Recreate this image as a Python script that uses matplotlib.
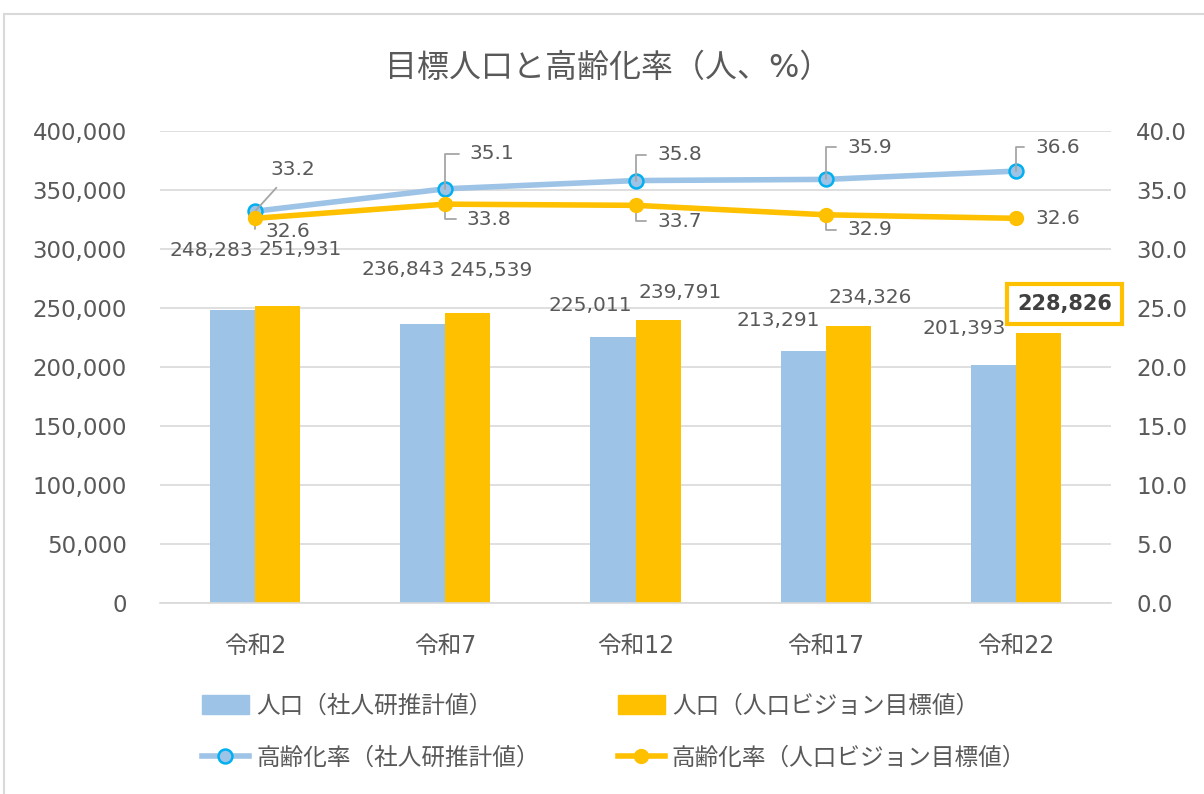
import matplotlib.pyplot as plt
from matplotlib.patches import Rectangle
from matplotlib.lines import Line2D
from matplotlib.patches import Patch

plt.rcParams['font.family'] = ['DejaVu Sans', 'Noto Sans CJK JP']

# データ
nendo = ["令和2", "令和7", "令和12", "令和17", "令和22"]
jinko_shajinken = [248283, 236843, 225011, 213291, 201393]
jinko_vision = [251931, 245539, 239791, 234326, 228826]
koreika_shajinken = [33.2, 35.1, 35.8, 35.9, 36.6]
koreika_vision = [32.6, 33.8, 33.7, 32.9, 32.6]

AZUL = "#9DC3E6"
NARANJA = "#FFC000"
GRIS = "#595959"

fig = plt.figure(figsize=(12.04, 7.94), dpi=100)
fig.patches.append(Rectangle((4/1204, -0.01), 1.2, 1 - 14/794 + 0.01, transform=fig.transFigure,
                             fill=False, edgecolor="#d9d9d9", linewidth=1.5))
ax = fig.add_axes([160/1204, 1 - 603/794, 951/1204, 472/794])
ax2 = ax.twinx()

xs = list(range(len(nendo)))
ancho = 0.237
ax.bar([x - ancho/2 for x in xs], jinko_shajinken, ancho, color=AZUL, zorder=2)
ax.bar([x + ancho/2 for x in xs], jinko_vision, ancho, color=NARANJA, zorder=2)

ax.set_xlim(-0.5, 4.5)
ax.set_ylim(0, 400000)
ax.set_yticks(range(0, 400001, 50000))
ax.set_yticklabels([f"{v:,}" for v in range(0, 400001, 50000)])
ax.grid(axis="y", color="#d9d9d9", linewidth=1.2, zorder=0)
ax.set_axisbelow(True)
ax.set_xticks(xs)
ax.set_xticklabels(nendo)
ax.tick_params(axis="y", length=0, pad=24, labelsize=16.5, labelcolor=GRIS)
ax.tick_params(axis="x", length=0, pad=22, labelsize=17, labelcolor=GRIS)
for s in ["top", "left", "right"]:
    ax.spines[s].set_visible(False)
ax.spines["bottom"].set_color("#d9d9d9")
ax.spines["bottom"].set_linewidth(1.2)

ax2.set_ylim(0, 40)
ax2.set_yticks([i * 5 for i in range(9)])
ax2.set_yticklabels([f"{i*5:.1f}" for i in range(9)])
ax2.tick_params(axis="y", length=0, pad=18, labelsize=16.5, labelcolor=GRIS)
for s in ax2.spines.values():
    s.set_visible(False)

ax2.plot(xs, koreika_shajinken, color=AZUL, linewidth=4, marker="o", markersize=10,
         markerfacecolor=AZUL, markeredgecolor="#00B0F0", markeredgewidth=1.8, zorder=3)
ax2.plot(xs, koreika_vision, color=NARANJA, linewidth=4, marker="o", markersize=10,
         markerfacecolor=NARANJA, markeredgecolor=NARANJA, zorder=4)

# etiquetas de barras (desplazamientos en pixeles)
off_azul = [(-21, 60), (-20, 54), (-23, 32), (-25, 31), (-29, 37)]
off_naranja = [(23, 56), (23, 43), (22, 28), (22, 29), (26, 29)]
for i in xs:
    ax.annotate(f"{jinko_shajinken[i]:,}", (i - ancho/2, jinko_shajinken[i]),
                xytext=off_azul[i], textcoords="offset pixels",
                ha="center", va="center", fontsize=14.5, color=GRIS)
    if i < 4:
        ax.annotate(f"{jinko_vision[i]:,}", (i + ancho/2, jinko_vision[i]),
                    xytext=off_naranja[i], textcoords="offset pixels",
                    ha="center", va="center", fontsize=14.5, color=GRIS)
    else:
        ax.annotate(f"{jinko_vision[i]:,}", (i + ancho/2, jinko_vision[i]),
                    xytext=off_naranja[i], textcoords="offset pixels",
                    ha="center", va="center", fontsize=15, color="#404040", fontweight="bold",
                    bbox=dict(boxstyle="square,pad=0.5", fc="white", ec=NARANJA, lw=3))

# etiquetas de lineas
lab_azul = [(38, 42), (47, 35), (44, 26), (44, 32), (42, 24)]
lab_naranja = [(33, -13), (44, -15), (44, -16), (44, -15), (42, 0)]
for i in xs:
    estilo = "arc3" if i == 0 else "angle,angleA=0,angleB=90,rad=0"
    ax2.annotate(f"{koreika_shajinken[i]:.1f}", (i, koreika_shajinken[i]),
                 xytext=lab_azul[i], textcoords="offset pixels",
                 ha="center", va="center", fontsize=14.5, color=GRIS,
                 arrowprops=dict(arrowstyle="-", color="#a6a6a6", lw=1.3,
                                 connectionstyle=estilo, shrinkA=6, shrinkB=0))
    props = None
    if i < 4:
        props = dict(arrowstyle="-", color="#a6a6a6", lw=1.3,
                     connectionstyle="angle,angleA=0,angleB=90,rad=0", shrinkA=6, shrinkB=0)
    ax2.annotate(f"{koreika_vision[i]:.1f}", (i, koreika_vision[i]),
                 xytext=lab_naranja[i], textcoords="offset pixels",
                 ha="center", va="center", fontsize=14.5, color=GRIS, arrowprops=props)

fig.text(608/1204, 1 - 68/794, "目標人口と高齢化率（人、%）", ha="center", va="center",
         fontsize=23, color=GRIS)

handles = [
    Patch(color=AZUL, label="人口（社人研推計値）"),
    Line2D([], [], color=AZUL, linewidth=4, marker="o", markersize=10, markerfacecolor=AZUL,
           markeredgecolor="#00B0F0", markeredgewidth=1.8, label="高齢化率（社人研推計値）"),
    Patch(color=NARANJA, label="人口（人口ビジョン目標値）"),
    Line2D([], [], color=NARANJA, linewidth=4, marker="o", markersize=10,
           markerfacecolor=NARANJA, markeredgecolor=NARANJA, label="高齢化率（人口ビジョン目標値）"),
]
leg = fig.legend(handles=handles, ncol=2, loc="center", bbox_to_anchor=(614/1204, 1 - 732/794),
                 frameon=False, fontsize=17, handlelength=2.0, handleheight=0.9,
                 columnspacing=3.3, labelspacing=1.2, handletextpad=0.3)
for t in leg.get_texts():
    t.set_color(GRIS)

plt.savefig("out.png", dpi=100)
